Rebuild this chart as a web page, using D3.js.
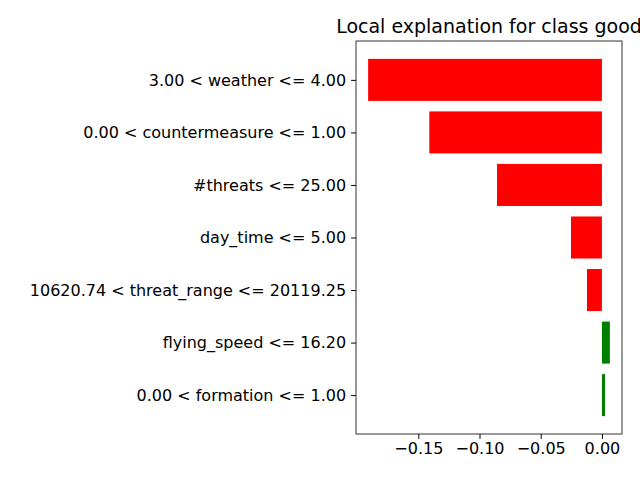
<!DOCTYPE html>
<html><head><meta charset="utf-8">
<script src="https://cdn.jsdelivr.net/npm/d3@7"></script>
<style>body{margin:0;background:#fff}</style>
</head><body>
<svg id="chart" width="640" height="480"></svg>
<script>
const features = ["3.00 < weather <= 4.00", "0.00 < countermeasure <= 1.00", "#threats <= 25.00",
  "day_time <= 5.00", "10620.74 < threat_range <= 20119.25", "flying_speed <= 16.20", "0.00 < formation <= 1.00"];
const weights = [-0.191, -0.141, -0.0857, -0.0253, -0.0122, 0.0065, 0.0025];
const xTicks = [-0.15, -0.10, -0.05, 0.00];

const plotLeft = 356, plotRight = 622, plotTop = 41, plotBottom = 434;
const svg = d3.select("#chart");
const font = "DejaVu Sans, sans-serif";

const x = d3.scaleLinear().domain([-0.2009, 0.0164]).range([plotLeft, plotRight]);
// matplotlib barh: index 0 drawn at bottom, so reverse
const y = d3.scaleLinear().domain([-0.74, 6.74]).range([plotBottom, plotTop]);
const n = features.length;

svg.selectAll("rect.bar").data(weights).enter().append("rect")
  .attr("class", "bar")
  .attr("x", d => x(Math.min(0, d)))
  .attr("width", d => Math.abs(x(d) - x(0)))
  .attr("y", (d, i) => y(n - 1 - i + 0.4))
  .attr("height", (d, i) => y(n - 1 - i - 0.4) - y(n - 1 - i + 0.4))
  .attr("fill", d => d > 0 ? "green" : "red");

svg.append("rect").attr("x", plotLeft).attr("y", plotTop).attr("width", plotRight - plotLeft).attr("height", plotBottom - plotTop)
  .attr("fill", "none").attr("stroke", "black").attr("stroke-width", 0.8);

const xAxis = svg.append("g").attr("transform", `translate(0,${plotBottom})`)
  .call(d3.axisBottom(x).tickValues(xTicks).tickSize(4.9).tickPadding(4)
    .tickFormat(d => d3.format(".2f")(d).replace("-", "\u2212")));
xAxis.select(".domain").remove();
xAxis.selectAll("text").attr("font-size", 16).attr("font-family", font).attr("fill", "black");

const yAxis = svg.append("g").attr("transform", `translate(${plotLeft},0)`)
  .call(d3.axisLeft(y).tickValues(d3.range(n)).tickSize(4.9).tickPadding(5)
    .tickFormat(i => features[n - 1 - i]));
yAxis.select(".domain").remove();
yAxis.selectAll("text").attr("font-size", 16).attr("font-family", font).attr("fill", "black");

svg.append("text").attr("x", (plotLeft + plotRight) / 2).attr("y", 33).attr("text-anchor", "middle")
  .attr("font-size", 19).attr("font-family", font).text("Local explanation for class good");
</script>
</body></html>
